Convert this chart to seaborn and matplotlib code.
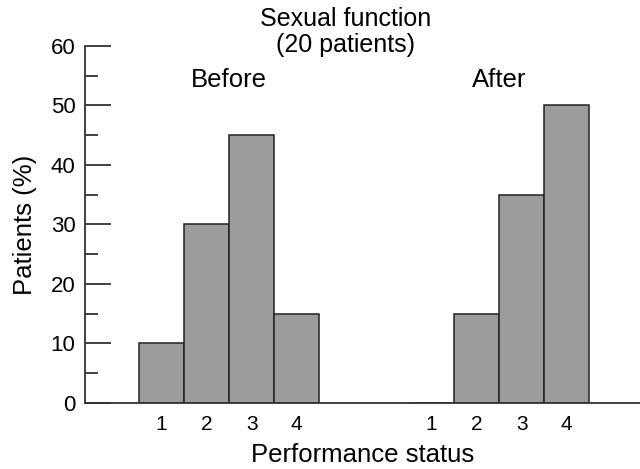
import pandas as pd
import matplotlib.pyplot as plt
import seaborn as sns

# bar heights (percent of the 20 patients)
status = ['1', '2', '3', '4']
before = [10, 30, 45, 15]
after = [0, 15, 35, 50]

# before-group in slots 0-3, after-group in slots 6-9
df = pd.DataFrame({
    'pos': [0, 1, 2, 3, 6, 7, 8, 9],
    'pct': before + after,
    'label': status + status,
})

sns.set_style('ticks')
plt.rcParams['font.family'] = ['Liberation Sans', 'DejaVu Sans']
plt.rcParams['text.color'] = 'black'
plt.rcParams['axes.labelcolor'] = 'black'
plt.rcParams['xtick.labelcolor'] = 'black'
plt.rcParams['ytick.labelcolor'] = 'black'

fig = plt.figure(figsize=(6.4, 4.69), dpi=100)
ax = fig.add_axes([0.133, 0.141, 0.867, 0.761])

sns.barplot(data=df, x='pos', y='pct', native_scale=True, width=1,
            color='#9c9c9c', saturation=1, edgecolor='#222222',
            linewidth=1.1, ax=ax, errorbar=None)

ax.set_xlim(-1.7, 10.63)
ax.set_ylim(0, 60)
ax.set_xticks(df['pos'])
ax.set_xticklabels(df['label'], fontsize=15)
ax.tick_params(axis='x', length=0, pad=9)
ax.set_yticks(range(0, 61, 10))
ax.set_yticks(range(5, 60, 10), minor=True)
ax.tick_params(axis='y', which='major', direction='in', length=19,
               width=1.3, color='#333333', labelsize=16, pad=7)
ax.tick_params(axis='y', which='minor', direction='in', length=9,
               width=1.3, color='#333333')

sns.despine(ax=ax)
for side in ['left', 'bottom']:
    ax.spines[side].set_linewidth(1.3)
    ax.spines[side].set_color('#333333')

ax.set_xlabel('Performance status', fontsize=18.5, labelpad=6)
ax.set_ylabel('Patients (%)', fontsize=18.5, labelpad=10)

fig.text(0.54, 0.985, 'Sexual function\n(20 patients)', ha='center', va='top',
         fontsize=18, linespacing=1.1)
ax.text(1.5, 54.3, 'Before', ha='center', va='center', fontsize=18.5)
ax.text(7.5, 54.3, 'After', ha='center', va='center', fontsize=18.5)

fig.savefig('out.png', dpi=100)
